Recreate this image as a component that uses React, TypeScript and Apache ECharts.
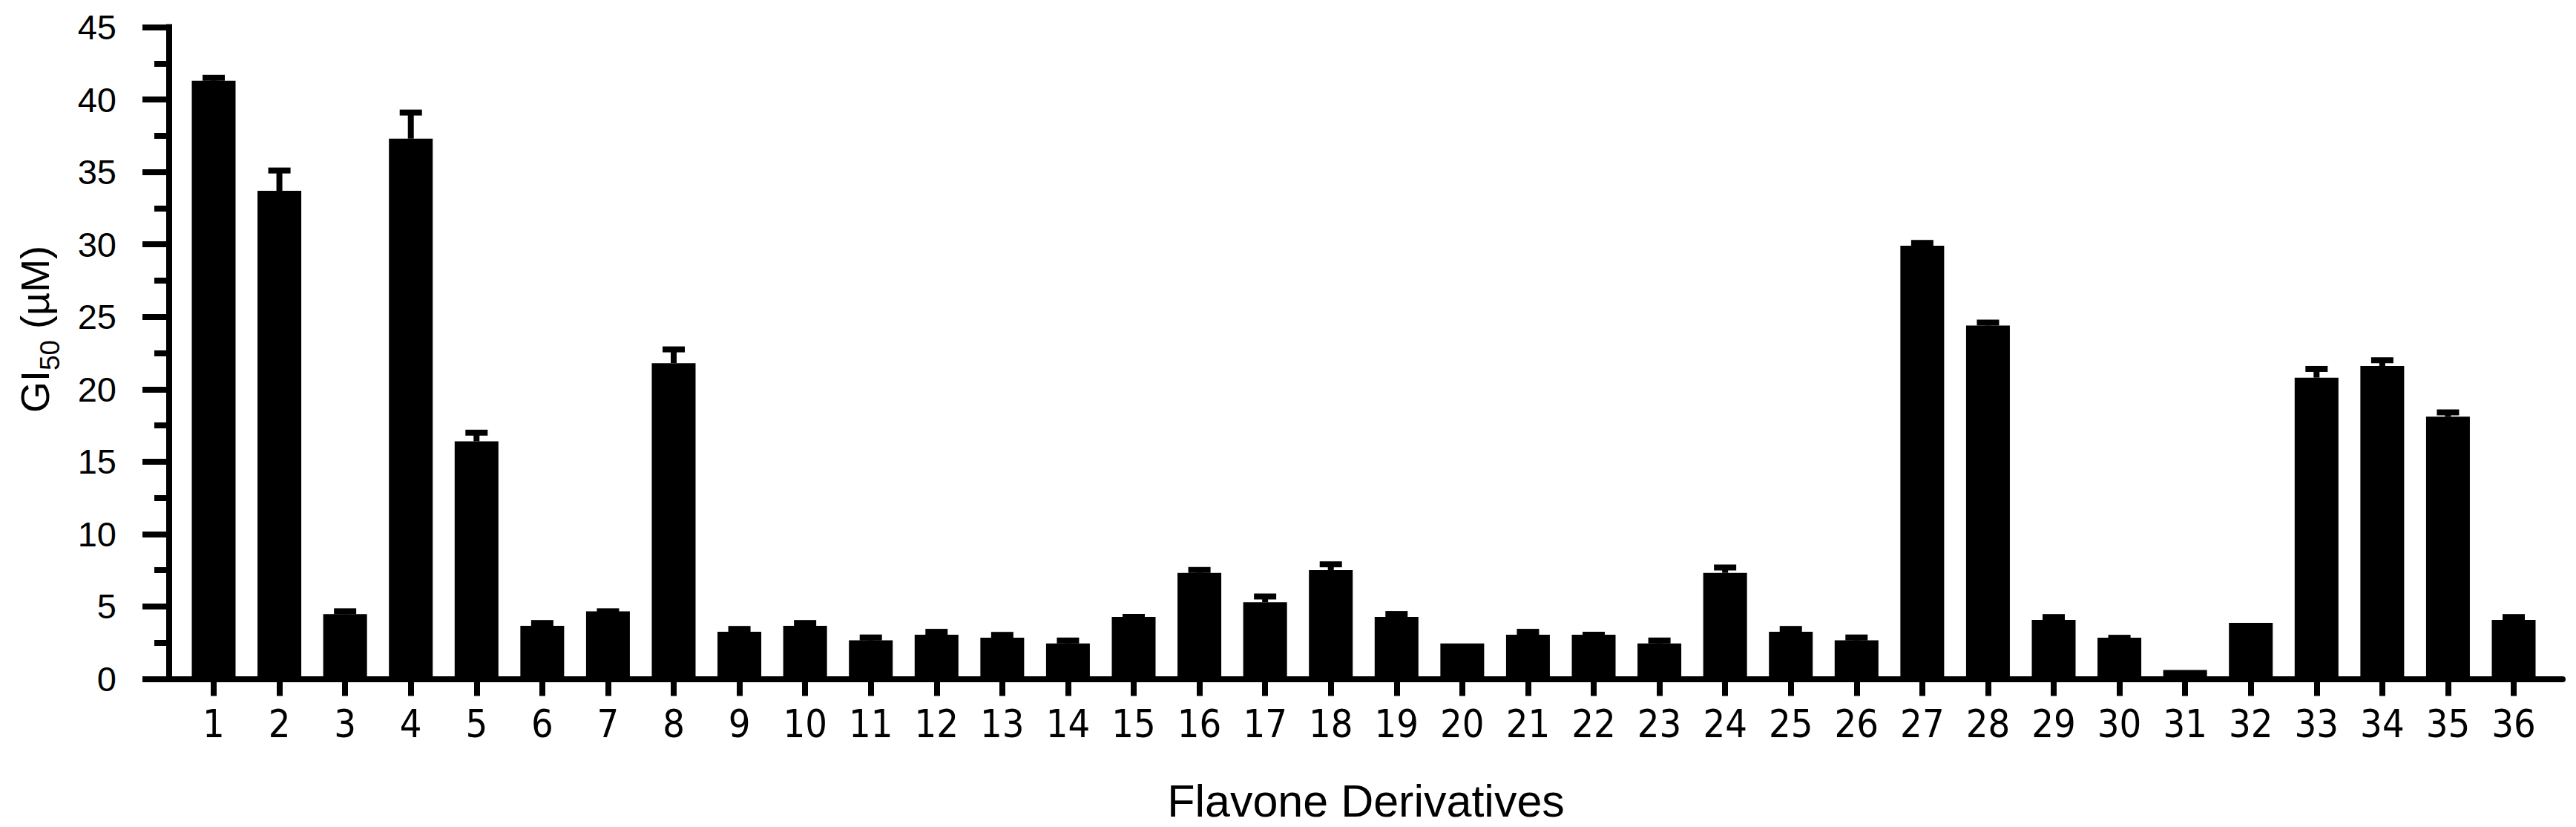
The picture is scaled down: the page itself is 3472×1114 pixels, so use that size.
import React, { useEffect, useRef } from "react";
import * as echarts from "echarts";

const categories = ["1","2","3","4","5","6","7","8","9","10","11","12","13","14","15","16","17","18","19","20","21","22","23","24","25","26","27","28","29","30","31","32","33","34","35","36"];
const gi50 = [41.3, 33.7, 4.47, 37.3, 16.4, 3.66, 4.67, 21.8, 3.25, 3.66, 2.66, 3.05, 2.84, 2.45, 4.28, 7.32, 5.29, 7.51, 4.28, 2.45, 3.05, 3.05, 2.45, 7.32, 3.25, 2.66, 29.9, 24.4, 4.07, 2.84, 0.62, 3.87, 20.8, 21.6, 18.1, 4.07];
const sd: (number | null)[] = [0.2, 1.4, 0.2, 1.8, 0.6, 0.2, 0, 0.95, 0.2, 0.2, 0.2, 0.2, 0.2, 0.2, 0, 0.2, 0.4, 0.4, 0.2, null, 0.2, 0, 0.2, 0.37, 0.2, 0.2, 0.2, 0.2, 0.2, 0, null, null, 0.6, 0.4, 0.3, 0.2];
const yTicks = { min: 0, max: 45, interval: 5 };

export default function App() {
  const ref = useRef<HTMLDivElement>(null);
  useEffect(() => {
    document.body.style.margin = "0";
    const chart = echarts.init(ref.current!, null, { renderer: "svg" });
    const positions = categories.map((_, i) => i + 1);
    chart.setOption({
      animation: false,
      backgroundColor: "#fff",
      grid: { left: 228, right: 18, top: 36.5, bottom: 199.5, outerBoundsMode: "none" },
      xAxis: {
        type: "value",
        min: 0.3226,
        max: 36.745,
        name: "Flavone Derivatives",
        nameLocation: "middle",
        nameGap: 134,
        nameTextStyle: { fontFamily: "Liberation Sans, Arial", fontSize: 61, color: "#000" },
        splitLine: { show: false },
        axisLine: { show: true, lineStyle: { color: "#000", width: 8 } },
        axisTick: { show: true, length: 23, customValues: positions, lineStyle: { color: "#000", width: 8 } },
        axisLabel: {
          customValues: positions,
          margin: 34,
          fontFamily: "Liberation Sans Narrow, Arial Narrow, DejaVu Sans Condensed, Liberation Sans",
          fontSize: 52,
          color: "#000",
          formatter: (v: number) => categories[Math.round(v) - 1] ?? "",
        },
      },
      yAxis: {
        type: "value",
        min: yTicks.min,
        max: yTicks.max,
        interval: yTicks.interval,
        name: "{a|GI}{s|50}{a| (µM)}",
        nameLocation: "middle",
        nameGap: 150,
        nameTextStyle: {
          padding: [0, 0, 0, 64],
          rich: {
            a: { fontFamily: "Liberation Sans, Arial", fontSize: 54, color: "#000", lineHeight: 62 },
            s: { fontFamily: "Liberation Sans, Arial", fontSize: 37, color: "#000", verticalAlign: "bottom", lineHeight: 44, padding: [0, 0, -8, 0] },
          },
        },
        splitLine: { show: false },
        axisLine: { show: true, lineStyle: { color: "#000", width: 8, cap: "square" } },
        axisTick: { show: true, length: 36, lineStyle: { color: "#000", width: 8 } },
        minorTick: { show: true, splitNumber: 2, length: 20, lineStyle: { color: "#000", width: 8 } },
        minorSplitLine: { show: false },
        axisLabel: { margin: 71, fontFamily: "Liberation Sans, Arial", fontSize: 47, color: "#000" },
      },
      series: [
        {
          type: "bar",
          data: categories.map((_, i) => [i + 1, gi50[i]]),
          barWidth: 59,
          itemStyle: { color: "#000" },
          z: 2,
        },
        {
          type: "custom",
          z: 3,
          clip: false,
          data: categories.map((_, i) => [i + 1, gi50[i], sd[i] === null ? "-" : sd[i]]),
          encode: { x: 0, y: 1 },
          renderItem: (params: any, api: any) => {
            const x = api.value(0);
            const v = api.value(1);
            const e = api.value(2);
            if (e === null || e === undefined || isNaN(e)) return null;
            const base = api.coord([x, v]);
            const top = api.coord([x, v + e]);
            const children: any[] = [];
            if (e > 0) {
              children.push({ type: "line", shape: { x1: base[0], y1: base[1], x2: top[0], y2: top[1] }, style: { stroke: "#000", lineWidth: 8 } });
            }
            children.push({ type: "line", shape: { x1: top[0] - 15, y1: top[1], x2: top[0] + 15, y2: top[1] }, style: { stroke: "#000", lineWidth: 8 } });
            return { type: "group", children };
          },
        },
      ],
    });
    return () => chart.dispose();
  }, []);
  return <div ref={ref} style={{ width: 3472, height: 1114 }} />;
}
